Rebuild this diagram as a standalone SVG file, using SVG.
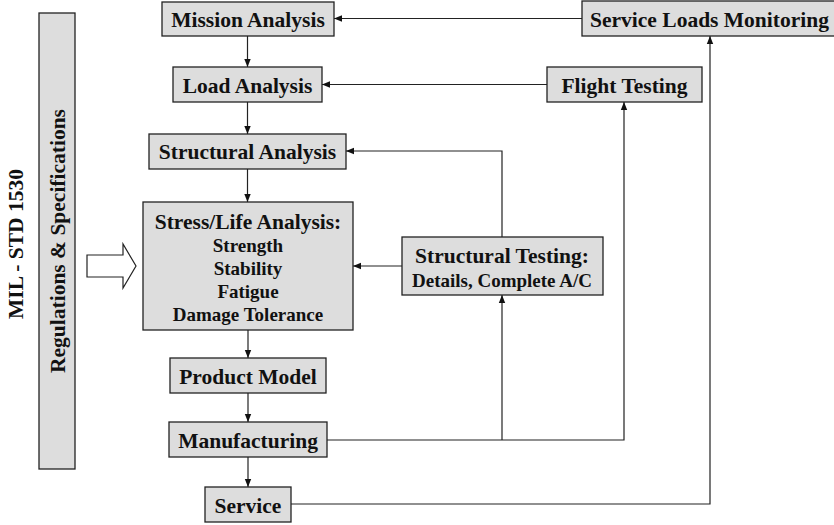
<svg xmlns="http://www.w3.org/2000/svg" width="834" height="525" viewBox="0 0 834 525">
<defs>
<style>
.box{fill:#dddddd;stroke:#222;stroke-width:1.3}
.t{font-family:"Liberation Serif","Times New Roman",serif;font-weight:bold;font-size:21.5px;fill:#111;text-anchor:middle}
.s{font-size:19px}
.c{fill:none;stroke:#222;stroke-width:1.2}
</style>
<marker id="ah" viewBox="0 0 8 8" refX="8" refY="4" markerWidth="8" markerHeight="8" markerUnits="userSpaceOnUse" orient="auto">
<path d="M0,0.8 L8,4 L0,7.2 Z" fill="#111"/>
</marker>
</defs>
<rect width="834" height="525" fill="#fff"/>
<g id="connectors">
<path class="c" d="M247.5,36 V67" marker-end="url(#ah)"/>
<path class="c" d="M247.5,102 V134" marker-end="url(#ah)"/>
<path class="c" d="M247.5,169 V202" marker-end="url(#ah)"/>
<path class="c" d="M248,330 V358" marker-end="url(#ah)"/>
<path class="c" d="M248,393 V422" marker-end="url(#ah)"/>
<path class="c" d="M248,457 V487" marker-end="url(#ah)"/>
<path class="c" d="M582,18.5 H334" marker-end="url(#ah)"/>
<path class="c" d="M547,84.5 H322" marker-end="url(#ah)"/>
<path class="c" d="M502,237 V151 H346" marker-end="url(#ah)"/>
<path class="c" d="M402,266 H353" marker-end="url(#ah)"/>
<path class="c" d="M327,440 H624 V102" marker-end="url(#ah)"/>
<path class="c" d="M502,440 V295" marker-end="url(#ah)"/>
<path class="c" d="M291,504 H710 V36" marker-end="url(#ah)"/>
</g>
<g id="regulations">
<rect class="box" x="39" y="13" width="36" height="456"/>
<text class="t" transform="translate(65,241) rotate(-90)">Regulations &amp; Specifications</text>
</g>
<g id="mil-std">
<text class="t" transform="translate(22.5,244) rotate(-90)">MIL - STD 1530</text>
</g>
<g id="input-arrow">
<polygon points="87,255 123,255 123,244 136,266 123,288 123,277 87,277" fill="#fff" stroke="#222" stroke-width="1.2"/>
</g>
<g id="mission-analysis">
<rect class="box" x="162" y="2" width="172" height="34"/>
<text class="t" x="248" y="26.5">Mission Analysis</text>
</g>
<g id="load-analysis">
<rect class="box" x="173" y="67" width="149" height="35"/>
<text class="t" x="247.5" y="92.5">Load Analysis</text>
</g>
<g id="structural-analysis">
<rect class="box" x="149" y="134" width="197" height="35"/>
<text class="t" x="247.5" y="159">Structural Analysis</text>
</g>
<g id="stress-life-analysis">
<rect class="box" x="143" y="202" width="210" height="128"/>
<text class="t" x="248" y="229">Stress/Life Analysis:</text>
<text class="t s" x="248" y="252">Strength</text>
<text class="t s" x="248" y="275">Stability</text>
<text class="t s" x="248" y="298">Fatigue</text>
<text class="t s" x="248" y="321">Damage Tolerance</text>
</g>
<g id="product-model">
<rect class="box" x="170" y="358" width="156" height="35"/>
<text class="t" x="248" y="383.5">Product Model</text>
</g>
<g id="manufacturing">
<rect class="box" x="169" y="422" width="158" height="35"/>
<text class="t" x="248" y="447.5">Manufacturing</text>
</g>
<g id="service">
<rect class="box" x="205" y="487" width="86" height="35"/>
<text class="t" x="248" y="512.5">Service</text>
</g>
<g id="service-loads-monitoring">
<rect class="box" x="582" y="1" width="254" height="35"/>
<text class="t" x="709.5" y="26.5">Service Loads Monitoring</text>
</g>
<g id="flight-testing">
<rect class="box" x="547" y="67" width="155" height="35"/>
<text class="t" x="624.5" y="92.5">Flight Testing</text>
</g>
<g id="structural-testing">
<rect class="box" x="402" y="237" width="201" height="58"/>
<text class="t" x="502" y="263">Structural Testing:</text>
<text class="t s" x="502" y="287">Details, Complete A/C</text>
</g>
</svg>
